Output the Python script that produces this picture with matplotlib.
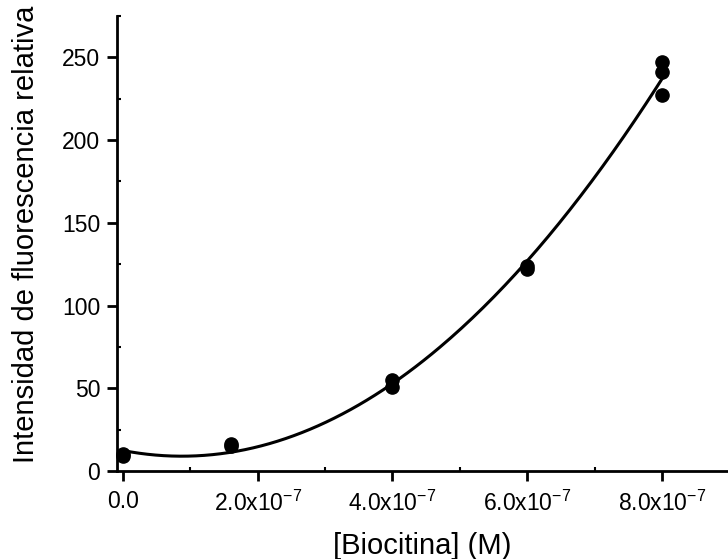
import numpy as np
import matplotlib
matplotlib.use("Agg")
import matplotlib.pyplot as plt
from matplotlib.ticker import MultipleLocator, FuncFormatter

plt.rcParams['font.family'] = ['Liberation Sans', 'DejaVu Sans']
plt.rcParams['mathtext.fontset'] = 'custom'
plt.rcParams['mathtext.rm'] = 'Liberation Sans'
plt.rcParams['mathtext.it'] = 'Liberation Sans:italic'
plt.rcParams['mathtext.bf'] = 'Liberation Sans:bold'

# Data
conc = [0.0, 0.0, 1.6e-7, 1.6e-7, 4.0e-7, 4.0e-7, 6.0e-7, 6.0e-7, 8.0e-7, 8.0e-7, 8.0e-7]
intensity = [9, 10.5, 15, 16.5, 51, 55, 122, 124, 227, 241, 247]
x_ticks = [0.0, 2e-7, 4e-7, 6e-7, 8e-7]
y_ticks = [0, 50, 100, 150, 200, 250]

# Quadratic fit through the data
coef = np.polyfit(np.array(conc) * 1e7, intensity, 2)
xf = np.linspace(0, 8e-7, 200)
yf = np.polyval(coef, xf * 1e7)

fig = plt.figure(figsize=(7.28, 5.59), dpi=100)
ax = fig.add_axes([117/728, 1 - 471/559, 1 - 117/728, (471 - 16)/559])

ax.plot(xf, yf, color='black', lw=2.2, zorder=2)
ax.plot(conc, intensity, 'o', color='black', ms=9.5, zorder=3, clip_on=False)

ax.set_xlim(-8.9e-9, 8.98e-7)
ax.set_ylim(0, 275)

ax.spines['top'].set_visible(False)
ax.spines['right'].set_visible(False)
for s in ('left', 'bottom'):
    ax.spines[s].set_linewidth(2.0)

ax.set_xticks(x_ticks)
ax.set_yticks(y_ticks)
ax.xaxis.set_minor_locator(MultipleLocator(1e-7))
ax.yaxis.set_minor_locator(MultipleLocator(25))

def xfmt(v, pos):
    if abs(v) < 1e-12:
        return '0.0'
    m = v / 1e-7
    return r'%.1fx10$^{\mathregular{-7}}$' % m

ax.xaxis.set_major_formatter(FuncFormatter(xfmt))

ax.tick_params(axis='both', which='major', direction='out', length=7, width=2.0,
               labelsize=16.5, colors='black')
ax.tick_params(axis='x', which='major', pad=7)
ax.tick_params(axis='y', which='major', pad=5)
ax.tick_params(axis='both', which='minor', direction='in', length=3, width=1.5)

ax.set_xlabel('[Biocitina] (M)', fontsize=21)
ax.set_ylabel('Intensidad de fluorescencia relativa', fontsize=21)
ax.xaxis.set_label_coords(0.5, -0.133)
ax.yaxis.set_label_coords(-0.126, 0.52)

fig.savefig('out.png', dpi=100)
